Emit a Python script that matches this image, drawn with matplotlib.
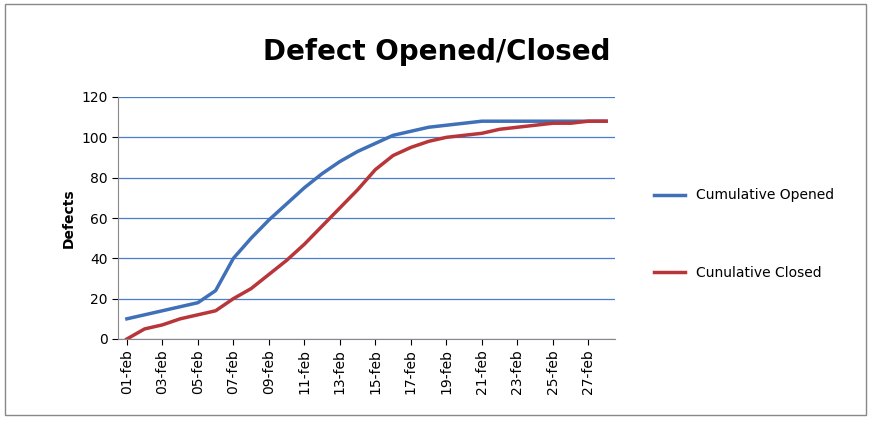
import matplotlib
matplotlib.use("Agg")
import matplotlib.pyplot as plt
from matplotlib.patches import Rectangle

dates = [f"{d:02d}-feb" for d in range(1, 29)]
opened = [10,12,14,16,18,24,40,50,59,67,75,82,88,93,97,101,103,105,106,107,108,108,108,108,108,108,108,108]
closed = [0,5,7,10,12,14,20,25,32,39,47,56,65,74,84,91,95,98,100,101,102,104,105,106,107,107,108,108]

fig = plt.figure(figsize=(8.73, 4.30), dpi=100)
fig.patches.append(Rectangle((0.006, 0.035), 0.986, 0.955, transform=fig.transFigure,
                             fill=False, edgecolor="#888888", linewidth=1))
ax = fig.add_axes([118/873, 1-339/430, (615-118)/873, (339-97)/430])
x = list(range(len(dates)))
ax.plot(x, opened, color="#4070B8", lw=2.5, label="Cumulative Opened")
ax.plot(x, closed, color="#B8363A", lw=2.5, label="Cunulative Closed")
ax.set_xlim(-0.5, len(dates)-0.5)
ax.set_ylim(0, 120)
ax.set_yticks(range(0, 121, 20))
ax.set_xticks(x[::2])
ax.set_xticklabels(dates[::2], rotation=90, fontsize=10)
ax.tick_params(axis='y', labelsize=10, length=4)
ax.tick_params(axis='x', length=4)
ax.grid(axis='y', color="#4A7EC8", lw=0.9)
for s in ["top", "right"]:
    ax.spines[s].set_visible(False)
for s in ["left", "bottom"]:
    ax.spines[s].set_color("#888888")
ax.set_ylabel("Defects", fontsize=10, fontweight="bold")
fig.text(0.5, 0.86, "Defect Opened/Closed", ha="center", fontsize=20, fontweight="bold")
fig.legend(loc="center left", bbox_to_anchor=(0.735, 0.455), frameon=False,
           fontsize=10, labelspacing=4.6, handlelength=2.2)
fig.savefig("out.png", dpi=100)
